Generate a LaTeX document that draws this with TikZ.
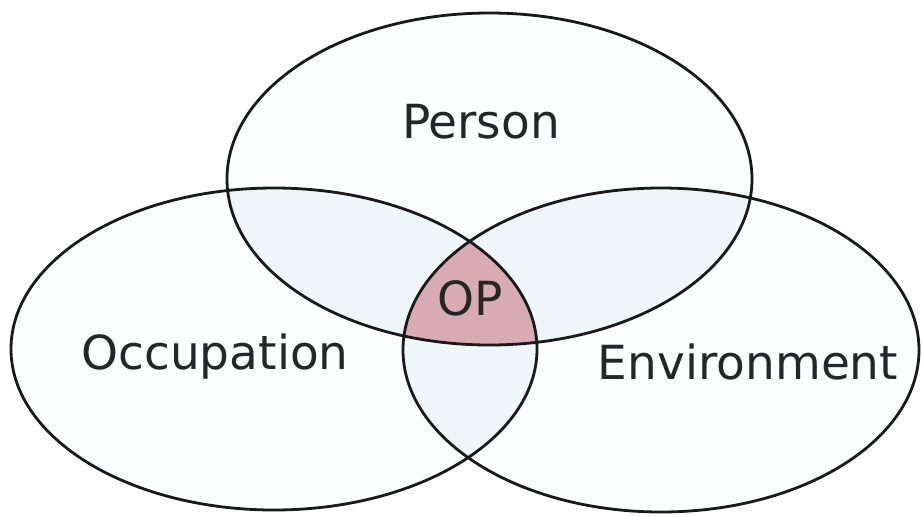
\documentclass[tikz,border=0pt]{standalone}
\usepackage{fontspec}
\setmainfont{DejaVu Sans}
\definecolor{fillone}{RGB}{251,253,254}
\definecolor{filltwo}{RGB}{239,246,249}
\definecolor{fillthree}{RGB}{216,170,178}
\begin{document}
\begin{tikzpicture}[x=1pt,y=-1pt,
  ring/.style={draw=black!90, line width=2.8pt},
  lbl/.style={font=\fontsize{47}{47}\selectfont, text=black!85, inner sep=0pt}]
\useasboundingbox[fill=white] (0,0) rectangle (922,517);
\def\Pers{(489.5,179) ellipse [x radius=262.5, y radius=166]}
\def\Occ{(274,349) ellipse [x radius=263, y radius=161]}
\def\Env{(661,350) ellipse [x radius=258, y radius=162]}
% single fills
\fill[fillone] \Pers;
\fill[fillone] \Occ;
\fill[fillone] \Env;
% pairwise overlaps
\begin{scope}\clip \Pers; \fill[filltwo] \Occ; \fill[filltwo] \Env;\end{scope}
\begin{scope}\clip \Occ; \fill[filltwo] \Env;\end{scope}
% triple overlap
\begin{scope}\clip \Pers; \clip \Occ; \fill[fillthree] \Env;\end{scope}
% outlines
\draw[ring] \Pers;
\draw[ring] \Occ;
\draw[ring] \Env;
% labels
\node[lbl] (person) at (481,122) {Person};
\node[lbl] (op) at (470,298) {OP};
\node[lbl] (occ) at (215,357) {Occupation};
\node[lbl] (env) at (748,362) {Environment};
\end{tikzpicture}
\end{document}
